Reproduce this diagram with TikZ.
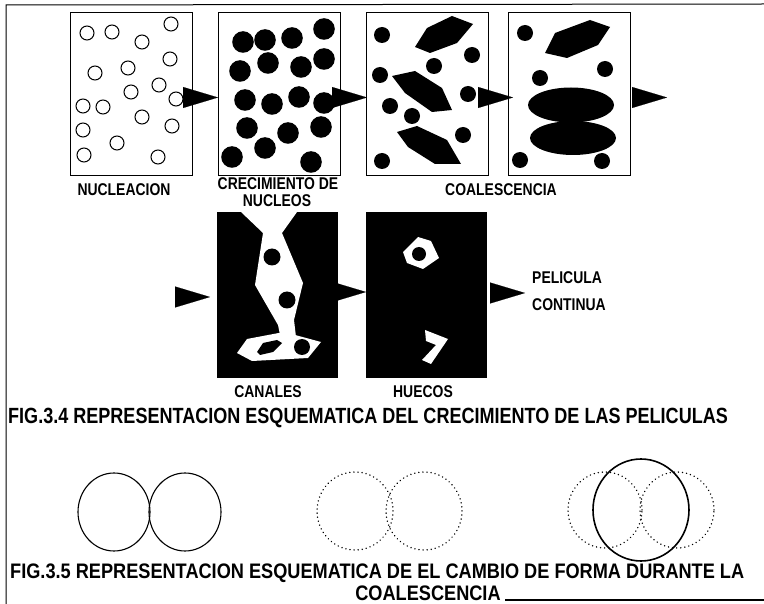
\documentclass[tikz,border=0pt]{standalone}
\usepackage{fontspec}
\setmainfont{Liberation Sans}
\newfontfamily\cond[FakeStretch=0.82]{Liberation Sans}
\newfontfamily\condw[FakeStretch=0.865]{Liberation Sans}
\usetikzlibrary{positioning, arrows.meta, shapes}

\tikzset{
  panel/.style={draw, line width=0.9pt, minimum width=122pt, minimum height=163pt, inner sep=0pt},
  darkpanel/.style={panel, fill=black, minimum width=120pt, minimum height=165pt},
  pointer/.style={-{Triangle[length=35pt, width=21pt]}, line width=0.1pt},
  tag/.style={font=\cond\bfseries\fontsize{17}{18}\selectfont, inner sep=0pt},
  caption/.style={font=\cond\bfseries\fontsize{22}{23}\selectfont, inner sep=0pt},
  smallcaption/.style={caption, font=\condw\bfseries\fontsize{21}{22}\selectfont},
  rim/.style={line width=1.1pt},
  trace/.style={line width=1.5pt, dash pattern=on 0.1pt off 4pt, line cap=round},
}

\begin{document}
\begin{tikzpicture}[x=1pt, y=-1pt]
        \useasboundingbox (0,0) rectangle (764,604);

        % Marco
        \draw[line width=1pt] (6,604) -- (6,5) -- (764,4);
        \draw[line width=1.2pt] (505,600) -- (764,600);

        % Paneles de la primera fila
        \node[panel] (nuc) at (131.5,93.5) {};
        \node[panel] (cre) at (279.5,93.5) {};
        \node[panel] (coa) at (427.5,93.5) {};
        \node[panel] (cob) at (569,93.5) {};

        % Nucleacion
        \foreach \x/\y in {87/33, 112/32, 142/42, 171/24, 95/73, 128/68, 170/59, 159/85, 131/92,
                           176/99, 83/106, 103/107, 142/117, 172/126, 83/130, 117/143, 84/155, 158/157}
            \draw[line width=1pt, fill=white] (\x,\y) circle (7pt);

        % Crecimiento de nucleos
        \foreach \x/\y in {243/42, 265/40, 292/38, 324/29, 240/71, 268/63, 301/67, 324/59, 245/100,
                           272/104, 299/97, 324/103, 247/128, 265/148, 288/133, 321/127, 232/157, 311/162}
            \fill (\x,\y) circle (10.8pt);

        % Coalescencia
        \foreach \x/\y in {382/35, 472/55, 434/66, 380/75, 468/94, 390/106, 412/116, 463/135, 382/161}
            \fill (\x,\y) circle (8pt);
        \fill (415,47) -- (427,28) -- (452,16) -- (473,24) -- (457,43) -- (430,53) -- cycle;
        \fill (392,76) -- (415,71) -- (442,88) -- (452,110) -- (432,112) -- (405,93) -- cycle;
        \fill (397,132) -- (417,126) -- (447,140) -- (461,164) -- (435,164) -- (408,147) -- cycle;

        \foreach \x/\y in {525/33, 540/78, 605/69, 520/160, 602/161}
            \fill (\x,\y) circle (8pt);
        \fill (545,53) -- (555,33) -- (590,20) -- (610,27) -- (598,45) -- (567,58) -- cycle;
        \fill (571,105) ellipse (43pt and 17.5pt);
        \fill (573,138) ellipse (43pt and 17pt);

        % Paneles de la segunda fila
        \node[darkpanel] (can) at (277,294.5) {};
        \node[darkpanel] (hue) at (426.5,294.5) {};

        % Canales
        \fill[white] (241,212) -- (297,212) -- (282,233) -- (303,283) -- (294,320) -- (296,337)
                     -- (280,335) -- (278,325) -- (255,285) -- (263,233) -- cycle;
        \fill[white] (237,353) -- (247,339) -- (284,332) -- (321,342) -- (308,358) -- (252,361) -- cycle;
        \fill (257,352) -- (263,343) -- (277,340) -- (282,343) -- (273,352) -- (260,355) -- cycle;
        \fill (272,257) circle (8.5pt);
        \fill (287,300) circle (8.5pt);
        \fill (302,347) circle (8pt);

        % Huecos
        \fill[white] (403,252) -- (418,237) -- (431,241) -- (439,258) -- (423,269) -- (407,263) -- cycle;
        \fill (419,254) circle (7pt);
        \fill[white] (425,330) -- (448,339) -- (431,364) -- (422,360) -- (436,345) -- (426,341) -- cycle;

        % Flechas
        \coordinate (a1) at (183,97.5);  \coordinate (b1) at (218,97.5);
        \coordinate (a2) at (332,97.5);  \coordinate (b2) at (367,97.5);
        \coordinate (a3) at (478,97.5);  \coordinate (b3) at (513,97.5);
        \coordinate (a4) at (632,97.5);  \coordinate (b4) at (667,97.5);
        \coordinate (a5) at (175,297);   \coordinate (b5) at (210,297);
        \coordinate (a6) at (331,292);   \coordinate (b6) at (366,292);
        \coordinate (a7) at (490,293);   \coordinate (b7) at (525,293);
        \foreach \i in {1,...,7}
            \draw[pointer] (a\i) -- (b\i);

        % Textos
        \node[tag] (tnuc) at (124,190) {NUCLEACION};
        \node[tag] (tcre) at (278,184) {CRECIMIENTO DE};
        \node[tag] (tcreb) at (277,201) {NUCLEOS};
        \node[tag] (tcoa) at (501,190) {COALESCENCIA};
        \node[tag] (tcan) at (268,392) {CANALES};
        \node[tag] (thue) at (423,392) {HUECOS};
        \node[tag, anchor=west] (tpel) at (532,278) {PELICULA};
        \node[tag, anchor=west] (tpelb) at (532,305) {CONTINUA};

        \node[caption, anchor=west] (fig34) at (8,418) {FIG.3.4 REPRESENTACION ESQUEMATICA DEL CRECIMIENTO DE LAS PELICULAS};

        % Cambio de forma
        \draw[rim] (114,512) ellipse (36pt and 39pt);
        \draw[rim] (185,512) ellipse (36pt and 39pt);

        \draw[trace] (355,511) ellipse (38pt and 39pt);
        \draw[trace] (424,511) ellipse (38pt and 39pt);

        \draw[trace] (605,510) ellipse (37pt and 38pt);
        \draw[trace] (677,510) ellipse (37pt and 38pt);
        \draw[line width=1.6pt] (641,510) ellipse (48pt and 51pt);

        \node[smallcaption, anchor=west] (fig35) at (10,573.5) {FIG.3.5 REPRESENTACION ESQUEMATICA DE EL CAMBIO DE FORMA DURANTE LA};
        \node[smallcaption] (fig35b) at (428,593.5) {COALESCENCIA};
    \end{tikzpicture}
\end{document}
